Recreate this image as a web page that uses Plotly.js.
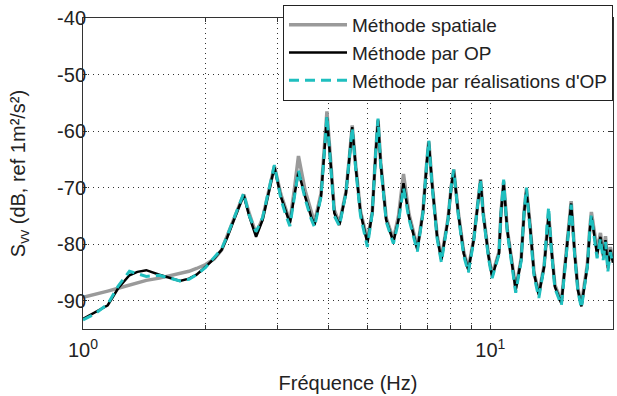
<!DOCTYPE html>
<html><head><meta charset="utf-8">
<script src="https://cdn.plot.ly/plotly-3.0.1.min.js"></script>
<style>html,body{margin:0;padding:0;background:#fff}#chart{width:617px;height:396px}</style>
</head><body><div id="chart"></div>
<script>
const freq = [1.00,1.07,1.15,1.22,1.30,1.36,1.43,1.54,1.63,1.73,1.82,1.90,2.00,2.10,2.19,2.26,2.33,2.42,2.48,2.56,2.66,2.76,2.87,2.95,3.06,3.15,3.22,3.30,3.38,3.51,3.63,3.70,3.84,3.91,3.97,4.06,4.14,4.26,4.42,4.52,4.58,4.67,4.80,4.99,5.13,5.23,5.30,5.38,5.55,5.78,5.95,6.12,6.31,6.62,6.83,6.98,7.06,7.19,7.40,7.58,7.87,8.02,8.13,8.34,8.60,8.83,9.10,9.30,9.46,9.60,9.90,10.1,10.5,10.62,10.78,11.0,11.3,11.54,11.9,12.1,12.26,12.5,12.8,13.15,13.55,13.77,13.9,14.1,14.4,14.94,15.25,15.6,15.79,16.1,16.4,16.73,17.3,17.55,17.7,18.0,18.28,18.63,18.92,19.17,19.43,19.7,20.0];
const opValues = [-93.2,-92.0,-90.8,-87.8,-85.5,-84.9,-84.6,-85.4,-85.9,-86.5,-86.1,-85.4,-84.0,-82.5,-81.0,-78.8,-76.3,-73.1,-71.3,-75.1,-78.7,-75.7,-70.4,-66.4,-71.6,-74.5,-76.3,-71.6,-67.2,-71.6,-75.1,-76.6,-71.6,-63.9,-57.6,-66.3,-74.5,-76.6,-71.0,-63.9,-59.3,-66.3,-74.5,-79.8,-74.5,-63.9,-58.2,-65.7,-75.7,-79.6,-75.7,-69.2,-75.1,-81.0,-74.5,-65.7,-62.0,-69.2,-78.7,-82.8,-75.7,-69.8,-67.0,-74.5,-81.6,-84.6,-79.3,-73.4,-68.7,-74.5,-82.2,-85.8,-81.6,-74.5,-69.1,-77.5,-84.0,-88.1,-82.8,-74.5,-70.4,-76.3,-85.2,-89.0,-84.0,-77.5,-75.0,-80.4,-87.5,-90.5,-84.0,-76.3,-72.8,-81.6,-88.1,-91.0,-84.0,-77.5,-75.1,-78.5,-81.9,-78.7,-82.2,-79.3,-84.3,-81.0,-83.3];
const spatialValues = [-89.4,-88.8,-88.3,-87.8,-87.2,-86.8,-86.4,-86.0,-85.6,-85.2,-84.8,-84.3,-83.6,-82.6,-81.0,-78.5,-76.0,-73.0,-71.2,-74.6,-78.2,-75.4,-70.2,-66.2,-71.2,-74.0,-76.0,-70.5,-64.4,-70.5,-74.5,-76.2,-71.0,-63.0,-56.5,-65.8,-74.0,-76.3,-70.8,-63.7,-59.0,-66.0,-74.2,-79.3,-74.3,-63.7,-58.0,-65.5,-75.4,-79.2,-75.0,-67.6,-74.6,-80.6,-74.3,-65.5,-61.8,-69.0,-78.4,-82.5,-75.5,-69.6,-66.8,-74.3,-81.3,-84.3,-79.1,-73.2,-68.5,-74.3,-82.0,-85.4,-81.4,-74.3,-68.9,-77.3,-83.8,-87.8,-82.6,-74.3,-70.2,-76.1,-85.0,-88.7,-83.8,-77.0,-74.6,-80.2,-87.2,-90.2,-83.8,-76.0,-72.4,-81.3,-87.8,-90.6,-83.6,-77.0,-74.3,-77.8,-81.2,-78.0,-81.6,-78.6,-83.6,-80.5,-82.6];
const realValues = [-93.4,-92.3,-90.6,-87.4,-84.8,-85.2,-85.7,-85.5,-86.0,-86.5,-86.2,-85.4,-84.1,-82.4,-80.8,-78.5,-76.0,-72.8,-71.0,-75.0,-77.8,-75.3,-70.0,-66.0,-72.0,-75.0,-76.8,-72.0,-67.0,-72.0,-75.5,-77.0,-71.6,-64.0,-57.3,-66.5,-75.0,-76.8,-71.0,-63.8,-59.4,-66.6,-75.0,-80.5,-74.5,-63.7,-57.8,-66.0,-76.0,-79.9,-76.0,-70.0,-75.5,-81.3,-74.5,-65.5,-61.7,-69.5,-79.0,-83.2,-75.7,-69.7,-66.8,-74.8,-82.0,-85.0,-79.5,-73.3,-68.5,-74.8,-82.6,-86.0,-81.8,-74.3,-68.6,-77.8,-84.4,-88.6,-83.0,-74.3,-70.0,-76.6,-85.6,-89.5,-84.0,-76.9,-73.4,-80.6,-87.8,-90.8,-84.2,-76.5,-73.0,-81.8,-88.4,-91.3,-84.0,-77.3,-74.8,-79.0,-82.5,-79.0,-82.8,-79.6,-84.8,-81.4,-83.6];
const seriesNames = ['Méthode spatiale','Méthode par OP','Méthode par réalisations d\'OP'];
const xTickVals = [1,2,3,4,5,6,7,8,9,10];
const xTickText = ['10<sup>0</sup>','','','','','','','','','10<sup>1</sup>'];
const yTickVals = [-90,-80,-70,-60,-50,-40];
const yTickText = ['-90','-80','-70','-60','-50','-40'];

const FONT = '"Liberation Sans", Arial, sans-serif';
const traces = [
  {x: freq, y: spatialValues, name: seriesNames[0], mode: 'lines', line: {color: '#9a9a9a', width: 3.5}},
  {x: freq, y: opValues, name: seriesNames[1], mode: 'lines', line: {color: '#000000', width: 2.5}},
  {x: freq, y: realValues, name: seriesNames[2], mode: 'lines', line: {color: '#1fbfbf', width: 3, dash: '10px,6px'}}
];
const gridDash = '1px,4px';
const layout = {
  width: 617, height: 396,
  margin: {l: 83, r: 4, t: 18, b: 67},
  paper_bgcolor: '#fff', plot_bgcolor: '#fff',
  font: {family: FONT, size: 20, color: '#222'},
  showlegend: true,
  legend: {x: 1, xanchor: 'right', y: 1.042, yanchor: 'top', bgcolor: '#fff', bordercolor: '#222', borderwidth: 1,
           font: {family: FONT, size: 19, color: '#222'}, itemwidth: 58, tracegroupgap: 0},
  xaxis: {type: 'log', range: [0, Math.log10(20)], tickvals: xTickVals, ticktext: xTickText,
          showgrid: true, gridcolor: '#333', griddash: gridDash, gridwidth: 1,
          showline: true, linecolor: '#333', linewidth: 1, mirror: 'ticks', ticks: 'inside', ticklen: 4, tickcolor: '#333',
          zeroline: false, tickfont: {family: FONT, size: 20, color: '#222'}, ticklabelstandoff: 3,
          title: {text: 'Fréquence (Hz)', font: {family: FONT, size: 20, color: '#222'}, standoff: 15}},
  yaxis: {range: [-95, -40], tickvals: yTickVals, ticktext: yTickText,
          showgrid: true, gridcolor: '#333', griddash: gridDash, gridwidth: 1,
          showline: true, linecolor: '#333', linewidth: 1, mirror: 'ticks', ticks: 'inside', ticklen: 4, tickcolor: '#333',
          zeroline: false, tickfont: {family: FONT, size: 20, color: '#222'}, ticklabelstandoff: -8,
          title: {text: 'S<sub>vv</sub> (dB, ref 1m²/s²)', font: {family: FONT, size: 20, color: '#222'}, standoff: 26}}
};
Plotly.newPlot('chart', traces, layout, {displayModeBar: false, staticPlot: true});
</script></body></html>
